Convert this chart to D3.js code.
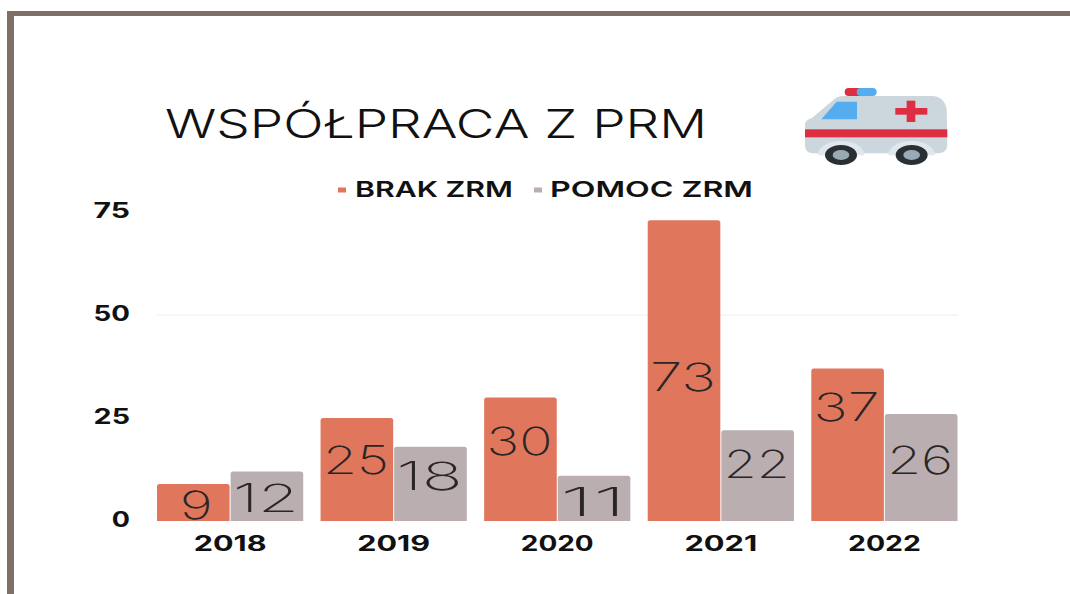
<!DOCTYPE html>
<html><head><meta charset="utf-8">
<script src="https://cdn.jsdelivr.net/npm/d3@7"></script>
<style>html,body{margin:0;background:#fff}svg{display:block}text{font-family:Inter,Lato,"Open Sans",sans-serif}</style>
</head><body><svg id="c" width="1070" height="594"></svg>
<script>
const titleText = "WSPÓŁPRACA Z PRM";
const years = ["2018","2019","2020","2021","2022"];
const seriesNames = ["BRAK ZRM","POMOC ZRM"];
const brakZrm = [9,25,30,73,37];
const pomocZrm = [12,18,11,22,26];
// height (in data units) at which each value label sits inside its bar
const brakLabelLevel = [3.9,14.8,19.4,35,27.7];
const pomocLabelLevel = [5.6,10.9,4.6,13.9,14.8];
const yTicks = [0,25,50,75];
const colors = ["#e0775c","#bbaeb0"];

const svg = d3.select("#c");
const x0 = d3.scaleBand().domain(years).range([156.5,958]).paddingInner(0.1).paddingOuter(0);
const x1 = d3.scaleBand().domain(seriesNames).range([0,x0.bandwidth()]);
const y = d3.scaleLinear().domain([0,75]).range([521,212]);

function fit(sel,widthFor){ sel.each(function(d,i){
  this.setAttribute("textLength",widthFor(this.textContent));this.setAttribute("lengthAdjust","spacingAndGlyphs");}); }

// frame
const frameColor="#7f6f69";
svg.append("rect").attr("x",7).attr("y",11).attr("width",1063).attr("height",5).attr("fill",frameColor);
svg.append("rect").attr("x",7).attr("y",11).attr("width",7).attr("height",583).attr("fill",frameColor);

// gridline
svg.append("line").attr("x1",157).attr("x2",958).attr("y1",y(50)).attr("y2",y(50)).attr("stroke","#f0eeee");

// title
svg.append("text").attr("x",165).attr("y",138).attr("font-size",40).attr("font-weight",300).attr("fill","#111")
  .text(titleText).attr("textLength",542).attr("lengthAdjust","spacingAndGlyphs");

// legend
const legendX=[338,534], legendTextX=[355,550], legendW=[158,203];
seriesNames.forEach((n,i)=>{
  svg.append("rect").attr("x",legendX[i]).attr("y",187.5).attr("width",8).attr("height",5).attr("fill",colors[i]);
  svg.append("text").attr("x",legendTextX[i]).attr("y",197).attr("font-size",22).attr("font-weight",600).attr("fill","#111")
    .text(n).attr("textLength",legendW[i]).attr("lengthAdjust","spacingAndGlyphs");
});

// bars
function rr(x,yy,w,h,r){return `M${x},${yy+h}V${yy+r}Q${x},${yy} ${x+r},${yy}H${x+w-r}Q${x+w},${yy} ${x+w},${yy+r}V${yy+h}Z`;}
[brakZrm,pomocZrm].forEach((vals,si)=>{
  const lv = si===0?brakLabelLevel:pomocLabelLevel;
  const g = svg.append("g");
  g.selectAll("path").data(vals).join("path")
    .attr("d",(d,i)=>rr(x0(years[i])+x1(seriesNames[si])+0.5,y(d),x1.bandwidth()-1,y(0)-y(d),2.5))
    .attr("fill",colors[si]);
  g.selectAll("text").data(vals).join("text")
    .attr("x",(d,i)=>x0(years[i])+x1(seriesNames[si])+x1.bandwidth()/2+(d===9?4:0)-1)
    .attr("y",(d,i)=>y(lv[i])).attr("dy","0.36em").attr("text-anchor","middle")
    .attr("font-size",39).attr("font-weight",200).attr("fill","#2b2626").text(d=>d)
    .call(fit,t=>t.length*33);
});

// axes
const ax = svg.append("g").attr("transform","translate(0,521)")
  .call(d3.axisBottom(x0).tickSize(0).tickPadding(0));
ax.select(".domain").remove();
ax.selectAll("text").attr("font-size",21).attr("font-weight",700).attr("fill","#111").attr("y",30).attr("dy",0)
  .style("font-family","Inter").call(fit,t=>t.length*18.2);
const ay = svg.append("g").attr("transform","translate(130,0)")
  .call(d3.axisLeft(y).tickValues(yTicks).tickSize(0).tickPadding(0));
ay.select(".domain").remove();
ay.selectAll("text").attr("font-size",21).attr("font-weight",700).attr("fill","#111").attr("dy","0.25em")
  .style("font-family","Inter").call(fit,t=>t.length*18.2);

// ambulance icon
const a = svg.append("g").attr("transform","translate(780,70) scale(0.3333)").style("filter","blur(0.7px)");
a.append("path").attr("d","M75,165 Q75,150 95,145 L160,90 Q172,78 190,78 L455,78 Q490,78 500,115 L502,225 Q500,250 475,250 L100,250 Q75,250 75,225Z").attr("fill","#ccd6dd");
a.append("path").attr("d","M170,95 H231 V148 H124Z").attr("fill","#55acee");
a.append("rect").attr("x",194).attr("y",54).attr("width",60).attr("height",24).attr("rx",12).attr("fill","#dd2e44");
a.append("rect").attr("x",230).attr("y",54).attr("width",60).attr("height",24).attr("rx",12).attr("fill","#55acee");
a.append("rect").attr("x",75).attr("y",178).attr("width",427).attr("height",24).attr("fill","#dd2e44");
a.append("rect").attr("x",380).attr("y",92).attr("width",26).attr("height",64).attr("fill","#dd2e44");
a.append("rect").attr("x",346).attr("y",114).attr("width",96).attr("height",20).attr("fill","#dd2e44");
[183,395].forEach(cx=>{
  a.append("ellipse").attr("cx",cx).attr("cy",255).attr("rx",70).attr("ry",42).attr("fill","#e1e8ed");
});
a.append("rect").attr("x",60).attr("y",256).attr("width",460).attr("height",50).attr("fill","#fff");
[183,395].forEach(cx=>{
  a.append("ellipse").attr("cx",cx).attr("cy",255).attr("rx",48).attr("ry",30).attr("fill","#292f33");
  a.append("ellipse").attr("cx",cx).attr("cy",255).attr("rx",25).attr("ry",15).attr("fill","#99aab5");
});
</script></body></html>
